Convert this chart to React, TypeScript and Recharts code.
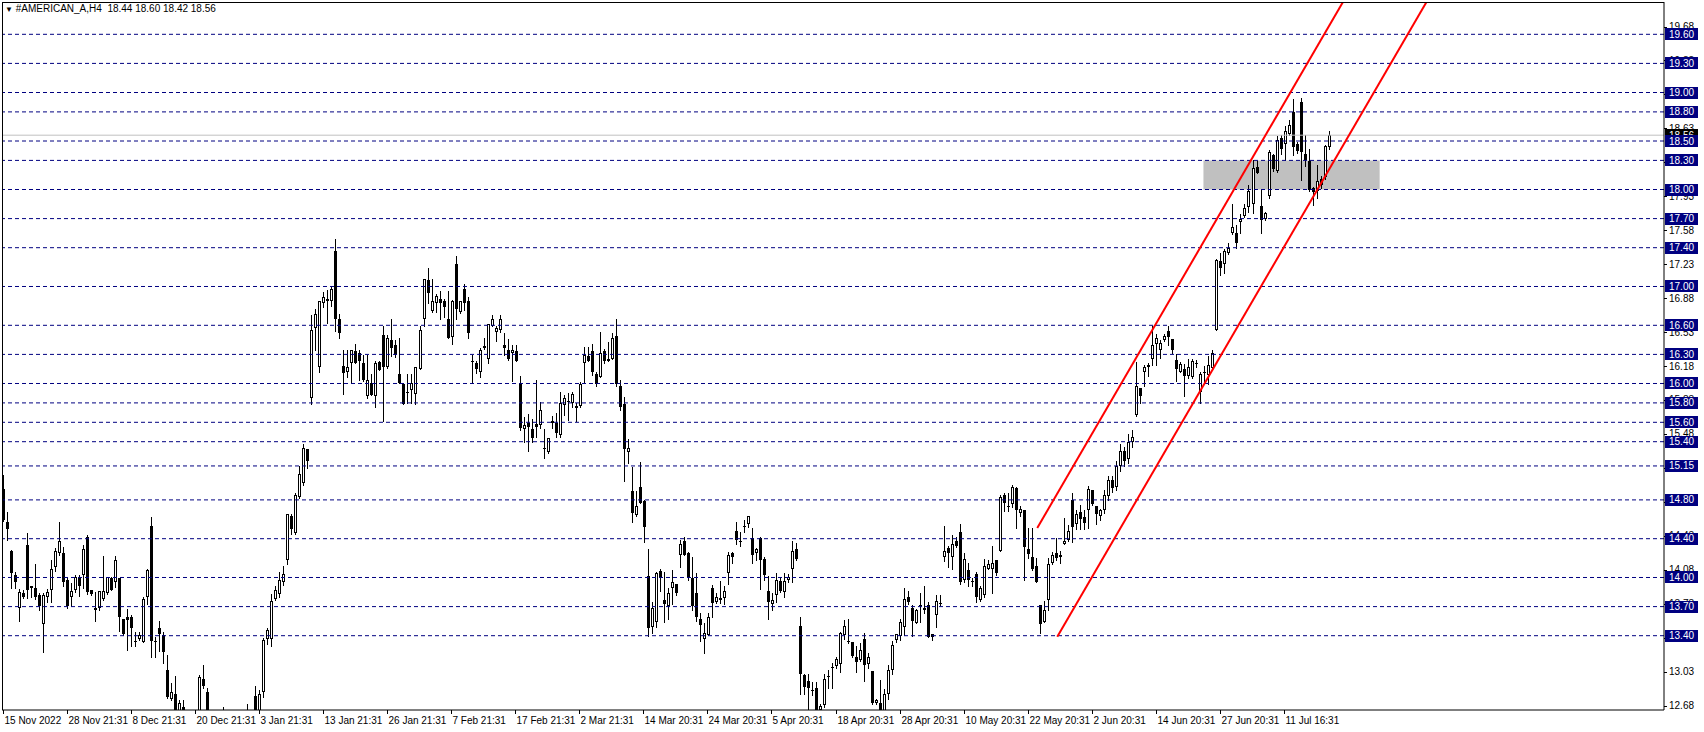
import { ComposedChart, Bar, XAxis, YAxis, ReferenceLine, ReferenceArea } from "recharts";

// H4 candles, oldest first
const OPEN = [
  14.91, 14.57, 14.27, 14.03, 13.69, 13.84, 14.33, 13.89, 13.89, 13.82, 13.52, 13.80, 13.87, 14.11, 14.25, 14.25, 13.97, 13.80, 13.87, 13.99,
  14.03, 14.42, 13.87, 13.69, 13.69, 13.78, 13.84, 13.99, 13.95, 13.99, 13.57, 13.59, 13.59, 13.35, 13.37, 13.33, 13.80, 14.53, 13.35, 13.48,
  13.41, 13.05, 12.75, 12.80, 12.62, 12.66, 12.58, 12.45, 12.50, 12.60, 12.95, 12.82, 12.55, 12.45, 12.50, 12.45, 12.55, 12.48, 12.52, 12.46,
  12.50, 12.55, 12.50, 12.78, 12.60, 12.82, 13.37, 13.37, 13.78, 13.83, 13.95, 14.18, 14.63, 14.46, 14.83, 14.97, 15.32, 15.85, 16.57, 16.17,
  16.83, 16.85, 16.85, 17.37, 16.67, 16.18, 16.12, 16.21, 16.33, 16.31, 16.21, 15.87, 16.01, 15.87, 16.22, 16.50, 16.17, 16.45, 16.40, 16.10,
  15.99, 15.91, 15.93, 15.89, 16.15, 16.67, 17.07, 16.75, 16.83, 16.87, 16.85, 16.66, 16.48, 17.23, 16.74, 16.97, 16.85, 16.23, 16.21, 16.12,
  16.37, 16.25, 16.59, 16.53, 16.55, 16.40, 16.35, 16.31, 16.33, 15.99, 15.53, 15.59, 15.53, 15.58, 15.57, 15.33, 15.29, 15.59, 15.59, 15.47,
  15.78, 15.82, 15.80, 15.77, 15.77, 16.21, 16.28, 16.34, 16.10, 16.07, 16.33, 16.25, 16.25, 16.49, 15.97, 15.79, 15.29, 14.89, 14.64, 14.93,
  14.79, 14.02, 13.49, 13.54, 14.07, 13.77, 13.71, 13.89, 13.93, 14.23, 14.38, 14.25, 13.99, 13.84, 13.57, 13.37, 13.41, 13.89, 13.75, 13.77,
  13.79, 14.05, 14.25, 14.48, 14.38, 14.52, 14.55, 14.41, 14.25, 14.41, 14.19, 13.86, 13.73, 13.82, 13.96, 13.85, 13.97, 14.09, 14.29, 13.50,
  12.99, 12.93, 12.84, 12.86, 12.63, 12.69, 12.98, 13.08, 13.09, 13.11, 13.41, 13.35, 13.33, 13.18, 13.15, 13.37, 13.11, 13.04, 12.71, 12.71,
  12.62, 12.80, 13.05, 13.36, 13.40, 13.49, 13.80, 13.69, 13.53, 13.72, 13.69, 13.72, 13.42, 13.61, 13.74, 14.21, 14.30, 14.21, 14.38, 14.47,
  13.97, 14.08, 13.96, 14.04, 13.77, 13.82, 14.09, 14.09, 14.18, 14.27, 14.85, 14.74, 14.76, 14.92, 14.67, 14.70, 14.29, 14.21, 14.12, 13.72,
  13.54, 13.77, 14.15, 14.25, 14.23, 14.35, 14.39, 14.80, 14.55, 14.68, 14.62, 14.70, 14.90, 14.74, 14.63, 14.70, 14.84, 15.00, 14.93, 15.15,
  15.30, 15.22, 15.40, 15.68, 15.95, 16.12, 16.19, 16.25, 16.41, 16.35, 16.45, 16.54, 16.46, 16.24, 16.12, 16.15, 16.08, 16.07, 16.21, 15.91,
  16.12, 16.09, 16.16, 16.55, 17.26, 17.23, 17.35, 17.55, 17.55, 17.67, 17.73, 17.82, 17.85, 18.23, 17.83, 17.70, 17.93, 18.36, 18.19, 18.53,
  18.47, 18.57, 18.80, 18.47, 18.90, 18.37, 18.29, 18.02, 17.98, 18.11, 18.13, 18.44,
];
const HIGH = [
  15.06, 14.68, 14.28, 14.06, 13.88, 13.87, 14.46, 13.91, 14.14, 13.84, 13.84, 13.88, 14.18, 14.30, 14.57, 14.31, 13.99, 13.94, 14.03, 14.03,
  14.33, 14.44, 13.87, 13.85, 13.86, 14.22, 14.01, 14.00, 14.22, 13.99, 13.57, 13.68, 13.61, 13.44, 13.44, 13.80, 14.09, 14.62, 13.39, 13.55,
  13.44, 13.20, 12.91, 12.98, 12.74, 12.74, 12.60, 12.55, 12.56, 12.99, 13.10, 12.86, 12.60, 12.58, 12.55, 12.66, 12.60, 12.62, 12.58, 12.56,
  12.60, 12.70, 12.62, 12.88, 12.84, 13.38, 13.48, 13.83, 13.91, 14.06, 14.12, 14.65, 14.65, 14.87, 15.15, 15.38, 15.32, 16.71, 16.77, 16.85,
  16.94, 16.96, 17.00, 17.49, 16.72, 16.35, 16.35, 16.35, 16.41, 16.35, 16.29, 16.29, 16.10, 16.23, 16.23, 16.59, 16.50, 16.67, 16.45, 16.47,
  16.00, 16.10, 16.10, 16.17, 16.59, 17.08, 17.19, 17.08, 16.92, 16.95, 16.87, 16.95, 16.86, 17.31, 16.85, 17.03, 16.89, 16.29, 16.23, 16.37,
  16.47, 16.61, 16.71, 16.59, 16.71, 16.52, 16.46, 16.40, 16.40, 16.08, 15.65, 15.69, 15.63, 16.04, 15.81, 15.53, 15.44, 15.66, 15.70, 15.91,
  15.88, 15.90, 15.91, 15.80, 16.02, 16.38, 16.38, 16.41, 16.12, 16.53, 16.36, 16.43, 16.52, 16.67, 16.04, 15.86, 15.43, 15.14, 14.89, 15.19,
  14.80, 14.29, 13.75, 14.06, 14.09, 14.06, 13.89, 14.08, 13.93, 14.39, 14.42, 14.26, 14.21, 14.05, 13.63, 13.53, 13.63, 13.92, 13.84, 13.96,
  13.91, 14.26, 14.26, 14.57, 14.47, 14.59, 14.63, 14.51, 14.30, 14.42, 14.21, 14.02, 13.84, 14.05, 14.01, 14.05, 14.04, 14.38, 14.36, 13.59,
  13.01, 13.01, 12.92, 12.92, 12.70, 13.01, 13.05, 13.12, 13.18, 13.44, 13.56, 13.57, 13.34, 13.29, 13.32, 13.43, 13.22, 13.04, 12.75, 12.94,
  12.85, 13.10, 13.35, 13.42, 13.57, 13.89, 13.86, 13.72, 13.68, 13.84, 13.91, 13.75, 13.42, 13.82, 13.82, 14.53, 14.32, 14.44, 14.42, 14.55,
  14.25, 14.15, 13.99, 14.06, 13.91, 14.19, 14.18, 14.32, 14.18, 14.85, 14.87, 14.87, 14.95, 14.93, 14.74, 14.70, 14.51, 14.51, 14.20, 13.72,
  13.76, 14.20, 14.26, 14.41, 14.27, 14.61, 14.54, 14.87, 14.70, 14.75, 14.70, 14.94, 14.90, 14.74, 14.71, 14.90, 15.05, 15.05, 15.20, 15.38,
  15.35, 15.48, 15.52, 16.22, 15.95, 16.19, 16.21, 16.59, 16.51, 16.45, 16.51, 16.59, 16.46, 16.30, 16.22, 16.20, 16.25, 16.25, 16.24, 16.12,
  16.18, 16.28, 16.35, 17.28, 17.35, 17.39, 17.45, 17.85, 17.63, 17.75, 17.85, 18.05, 18.30, 18.29, 18.00, 17.77, 18.41, 18.37, 18.55, 18.56,
  18.65, 18.72, 18.93, 18.49, 18.94, 18.56, 18.42, 18.03, 18.25, 18.14, 18.46, 18.60,
];
const LOW = [
  14.58, 14.39, 13.89, 13.89, 13.55, 13.79, 13.79, 13.80, 13.78, 13.67, 13.23, 13.75, 13.75, 14.07, 14.23, 13.91, 13.69, 13.71, 13.85, 13.81,
  13.89, 13.83, 13.82, 13.55, 13.67, 13.77, 13.83, 13.87, 13.90, 13.45, 13.41, 13.25, 13.29, 13.29, 13.36, 13.33, 13.73, 13.18, 13.18, 13.24,
  13.12, 12.76, 12.74, 12.52, 12.55, 12.50, 12.40, 12.40, 12.38, 12.55, 12.86, 12.50, 12.40, 12.40, 12.38, 12.42, 12.42, 12.44, 12.40, 12.42,
  12.45, 12.45, 12.46, 12.52, 12.55, 12.77, 13.31, 13.29, 13.77, 13.80, 13.92, 14.14, 14.45, 14.45, 14.82, 14.95, 15.13, 15.79, 16.35, 16.12,
  16.79, 16.62, 16.80, 16.54, 16.47, 15.89, 16.07, 16.01, 16.21, 16.04, 16.03, 15.85, 15.88, 15.76, 16.14, 15.61, 16.16, 16.28, 16.27, 16.00,
  15.79, 15.80, 15.80, 15.79, 16.15, 16.59, 16.83, 16.74, 16.74, 16.67, 16.69, 16.47, 16.41, 16.66, 16.73, 16.76, 16.47, 16.01, 16.11, 16.07,
  16.36, 16.21, 16.59, 16.44, 16.53, 16.29, 16.24, 16.03, 16.23, 15.52, 15.40, 15.30, 15.40, 15.45, 15.54, 15.23, 15.28, 15.54, 15.45, 15.45,
  15.68, 15.62, 15.76, 15.61, 15.76, 16.00, 16.23, 16.09, 15.97, 16.07, 16.21, 16.23, 16.25, 15.97, 15.73, 14.99, 15.18, 14.57, 14.63, 14.77,
  14.37, 13.40, 13.43, 13.49, 13.86, 13.54, 13.57, 13.73, 13.82, 14.11, 14.23, 13.97, 13.67, 13.55, 13.35, 13.22, 13.41, 13.59, 13.74, 13.74,
  13.73, 13.93, 14.15, 14.35, 14.32, 14.47, 14.52, 14.15, 14.18, 13.88, 13.97, 13.57, 13.67, 13.75, 13.85, 13.80, 13.95, 13.95, 14.18, 12.80,
  12.80, 12.60, 12.79, 12.55, 12.59, 12.67, 12.86, 12.86, 13.07, 13.03, 13.37, 13.32, 13.18, 13.03, 13.14, 12.93, 13.07, 12.70, 12.70, 12.58,
  12.55, 12.75, 13.00, 13.33, 13.36, 13.41, 13.73, 13.40, 13.53, 13.54, 13.63, 13.39, 13.36, 13.49, 13.72, 14.17, 14.11, 14.09, 14.31, 13.93,
  13.95, 13.91, 13.91, 13.75, 13.76, 13.80, 14.09, 13.84, 14.03, 14.27, 14.69, 14.69, 14.73, 14.51, 14.63, 13.97, 14.20, 14.08, 13.95, 13.43,
  13.54, 13.67, 14.14, 14.18, 14.15, 14.35, 14.38, 14.37, 14.50, 14.50, 14.50, 14.51, 14.75, 14.55, 14.59, 14.66, 14.80, 14.88, 14.90, 15.10,
  15.15, 15.18, 15.35, 15.67, 15.80, 15.97, 16.08, 16.19, 16.19, 16.26, 16.44, 16.40, 16.31, 16.03, 16.12, 15.87, 16.06, 16.06, 16.17, 15.80,
  16.01, 15.99, 16.16, 16.55, 17.12, 17.14, 17.34, 17.54, 17.40, 17.55, 17.72, 17.77, 17.76, 18.17, 17.55, 17.69, 17.91, 18.19, 18.18, 18.37,
  18.30, 18.56, 18.36, 18.38, 18.10, 18.24, 17.98, 17.84, 17.91, 18.02, 18.11, 18.42,
];
const CLOSE = [
  14.59, 14.50, 14.05, 13.95, 13.85, 13.80, 13.87, 13.91, 13.80, 13.71, 13.82, 13.85, 14.09, 14.27, 14.38, 13.95, 13.71, 13.86, 14.01, 13.91,
  14.29, 13.85, 13.83, 13.67, 13.86, 13.86, 14.00, 13.87, 14.18, 13.59, 13.42, 13.56, 13.48, 13.35, 13.41, 13.78, 14.08, 13.35, 13.34, 13.42,
  13.23, 12.77, 12.82, 12.58, 12.71, 12.56, 12.45, 12.50, 12.42, 12.97, 12.88, 12.58, 12.45, 12.50, 12.44, 12.55, 12.48, 12.52, 12.46, 12.50,
  12.55, 12.50, 12.58, 12.58, 12.80, 13.36, 13.46, 13.76, 13.87, 13.97, 14.04, 14.65, 14.50, 14.85, 15.07, 15.33, 15.20, 16.55, 16.72, 16.85,
  16.89, 16.87, 16.97, 16.66, 16.52, 16.11, 16.17, 16.35, 16.21, 16.23, 16.04, 16.04, 15.88, 16.21, 16.14, 16.17, 16.47, 16.37, 16.29, 16.01,
  15.79, 15.91, 16.01, 16.17, 16.55, 17.08, 16.93, 16.85, 16.90, 16.83, 16.79, 16.47, 16.85, 16.77, 16.85, 16.83, 16.52, 16.22, 16.15, 16.35,
  16.39, 16.61, 16.66, 16.57, 16.67, 16.37, 16.25, 16.35, 16.23, 15.54, 15.57, 15.55, 15.44, 15.55, 15.73, 15.32, 15.44, 15.61, 15.49, 15.80,
  15.85, 15.82, 15.89, 15.75, 15.99, 16.29, 16.23, 16.12, 15.99, 16.31, 16.23, 16.23, 16.47, 15.99, 15.76, 15.32, 15.33, 14.67, 14.74, 14.77,
  14.52, 13.48, 13.69, 14.05, 13.99, 13.73, 13.84, 13.95, 13.84, 14.35, 14.23, 14.01, 13.71, 13.59, 13.51, 13.43, 13.59, 13.74, 13.80, 13.79,
  13.86, 14.23, 14.21, 14.39, 14.38, 14.53, 14.63, 14.23, 14.29, 14.18, 14.03, 13.75, 13.77, 13.97, 13.86, 13.96, 14.01, 14.27, 14.19, 13.01,
  12.87, 12.86, 12.84, 12.60, 12.68, 12.95, 12.98, 13.08, 13.16, 13.43, 13.50, 13.33, 13.19, 13.13, 13.25, 13.10, 13.18, 12.71, 12.74, 12.62,
  12.80, 13.05, 13.30, 13.42, 13.54, 13.78, 13.75, 13.55, 13.67, 13.72, 13.66, 13.39, 13.39, 13.76, 13.74, 14.27, 14.25, 14.35, 14.32, 13.95,
  14.19, 13.97, 13.96, 13.80, 13.89, 14.12, 14.14, 14.15, 14.05, 14.83, 14.77, 14.74, 14.93, 14.70, 14.71, 14.31, 14.24, 14.09, 13.95, 13.52,
  13.67, 14.14, 14.23, 14.20, 14.21, 14.38, 14.48, 14.52, 14.65, 14.60, 14.56, 14.91, 14.76, 14.65, 14.70, 14.85, 15.00, 14.92, 15.15, 15.30,
  15.20, 15.40, 15.45, 15.97, 15.87, 16.17, 16.17, 16.40, 16.47, 16.42, 16.49, 16.48, 16.35, 16.15, 16.20, 16.08, 16.17, 16.23, 16.21, 16.10,
  16.12, 16.19, 16.31, 17.27, 17.19, 17.37, 17.40, 17.61, 17.45, 17.70, 17.81, 17.98, 18.22, 18.17, 17.69, 17.76, 18.39, 18.21, 18.51, 18.42,
  18.60, 18.67, 18.44, 18.40, 18.39, 18.30, 18.00, 17.97, 18.09, 18.05, 18.45, 18.56,
];

const SYMBOL = "#AMERICAN_A,H4";
// one label every 16 bars
const DATE_LABELS = [
  "15 Nov 2022", "28 Nov 21:31", "8 Dec 21:31", "20 Dec 21:31", "3 Jan 21:31", "13 Jan 21:31", "26 Jan 21:31",
  "7 Feb 21:31", "17 Feb 21:31", "2 Mar 21:31", "14 Mar 20:31", "24 Mar 20:31", "5 Apr 20:31", "18 Apr 20:31",
  "28 Apr 20:31", "10 May 20:31", "22 May 20:31", "2 Jun 20:31", "14 Jun 20:31", "27 Jun 20:31", "11 Jul 16:31",
];
const LABEL_EVERY = 16;
const SLOTS = 415; // bars + empty shift on the right

const PRICE_TICKS = [
  12.68, 13.03, 13.38, 13.73, 14.08, 14.43, 14.78, 15.13, 15.48, 15.83, 16.18,
  16.53, 16.88, 17.23, 17.58, 17.93, 18.28, 18.63, 18.98, 19.33, 19.68,
];
const LEVELS = [
  19.6, 19.3, 19.0, 18.8, 18.5, 18.3, 18.0, 17.7, 17.4, 17.0, 16.6,
  16.3, 16.0, 15.8, 15.6, 15.4, 15.15, 14.8, 14.4, 14.0, 13.7, 13.4,
];
const BID = 18.56;
const ZONE_BARS = [300, 343];
const ZONE_PRICES = [18.0, 18.3];
const CHANNEL_UPPER = [{ x: 258, y: 14.51 }, { x: 335, y: 19.98 }];
const CHANNEL_LOWER = [{ x: 263, y: 13.39 }, { x: 356, y: 19.99 }];
const Y_DOMAIN: [number, number] = [12.634, 19.933];

const W = 1704;
const H = 732;
const PLOT_LEFT = 2;
const PLOT_TOP = 2;
const PLOT_RIGHT = 1664;
const PLOT_BOTTOM = 710;
const FONT = '"Liberation Sans", Arial, sans-serif';
const NAVY = "#000080";

// plain scale labels first, then the price tags drawn over them
const AXIS_TICKS = [...PRICE_TICKS, BID, ...LEVELS];

const rows = Array.from({ length: SLOTS }, (_, i) => ({
  i,
  open: OPEN[i] ?? null,
  high: HIGH[i] ?? null,
  low: LOW[i] ?? null,
  close: CLOSE[i] ?? null,
}));

function Candle(props: any) {
  const { x, y, height, payload } = props;
  if (!payload || payload.open == null) return null;
  const { open, close, high, low } = payload;
  const k = high > low ? height / (high - low) : 0;
  const py = (v: number) => y + (high - v) * k;
  const left = Math.round(x);
  const cx = left + 1.5;
  const top = Math.round(py(Math.max(open, close)));
  const bot = Math.round(py(Math.min(open, close)));
  const wick = <line x1={cx} x2={cx} y1={Math.round(py(high))} y2={Math.round(py(low)) + 1} stroke="#000" strokeWidth={1} />;
  if (bot - top <= 1) {
    return (
      <g>
        {wick}
        <line x1={left} x2={left + 3} y1={top + 0.5} y2={top + 0.5} stroke="#000" strokeWidth={1} />
      </g>
    );
  }
  if (close >= open) {
    return (
      <g>
        {wick}
        <rect x={left + 0.5} y={top + 0.5} width={2} height={bot - top - 1} fill="#fff" stroke="#000" strokeWidth={1} />
      </g>
    );
  }
  return (
    <g>
      {wick}
      <rect x={left} y={top} width={3} height={bot - top} fill="#000" />
    </g>
  );
}

function DateTick(props: any) {
  const { x, payload } = props;
  const i = payload.value;
  if (i % LABEL_EVERY !== 0) return null;
  const label = DATE_LABELS[i / LABEL_EVERY];
  if (!label) return null;
  const tx = Math.round(x - 1.5) + 0.5;
  return (
    <g>
      <line x1={tx} x2={tx} y1={PLOT_BOTTOM} y2={PLOT_BOTTOM + 4} stroke="#000" />
      <text x={tx + 1} y={PLOT_BOTTOM + 14} fontSize={10} fontFamily={FONT} fill="#000">{label}</text>
    </g>
  );
}

function PriceTick(props: any) {
  const { y, payload } = props;
  const v: number = payload.value;
  const ty = Math.round(y) + 0.5;
  const tagFill = v === BID ? "#000" : LEVELS.includes(v) ? NAVY : null;
  if (tagFill) {
    return (
      <g>
        <rect x={PLOT_RIGHT + 1} y={Math.round(y) - 6} width={33} height={12} fill={tagFill} />
        <text x={PLOT_RIGHT + 5} y={y + 3.5} fontSize={10} fontFamily={FONT} fill="#fff">{v.toFixed(2)}</text>
      </g>
    );
  }
  return (
    <g>
      <line x1={PLOT_RIGHT} x2={PLOT_RIGHT + 3} y1={ty} y2={ty} stroke="#000" />
      <text x={PLOT_RIGHT + 5} y={y + 3.5} fontSize={10} fontFamily={FONT} fill="#000">{v.toFixed(2)}</text>
    </g>
  );
}

export default function App() {
  const last = rows[OPEN.length - 1];
  const title = `${SYMBOL}  ${[last.open, last.high, last.low, last.close].map((v) => (v as number).toFixed(2)).join(" ")}`;

  return (
    <div style={{ position: "absolute", left: 0, top: 0, width: W, height: H, background: "#fff", overflow: "hidden" }}>
      <ComposedChart
        width={W}
        height={H}
        data={rows}
        margin={{ top: PLOT_TOP, right: 0, bottom: 0, left: PLOT_LEFT }}
        barCategoryGap={0}
        barGap={0}
      >
        <XAxis
          dataKey="i"
          height={H - PLOT_BOTTOM}
          interval={0}
          tick={<DateTick />}
          tickLine={false}
          axisLine={{ stroke: "#000" }}
        />
        <YAxis
          orientation="right"
          width={W - PLOT_RIGHT}
          type="number"
          domain={Y_DOMAIN}
          allowDataOverflow
          ticks={AXIS_TICKS}
          interval={0}
          tick={<PriceTick />}
          tickLine={false}
          axisLine={{ stroke: "#000" }}
        />
        <ReferenceArea
          x1={ZONE_BARS[0]}
          x2={ZONE_BARS[1]}
          y1={ZONE_PRICES[0]}
          y2={ZONE_PRICES[1]}
          fill="#c0c0c0"
          fillOpacity={1}
          stroke="none"
        />
        <ReferenceLine y={BID} stroke="#c0c0c0" strokeWidth={1} />
        {LEVELS.map((v) => (
          <ReferenceLine key={v} y={v} stroke={NAVY} strokeWidth={1} strokeDasharray="4 3" />
        ))}
        <Bar
          dataKey={(d: any) => (d.open == null ? null : [d.low, d.high])}
          shape={<Candle />}
          isAnimationActive={false}
        />
        <ReferenceLine segment={CHANNEL_UPPER} stroke="#ff0000" strokeWidth={2} ifOverflow="hidden" />
        <ReferenceLine segment={CHANNEL_LOWER} stroke="#ff0000" strokeWidth={2} ifOverflow="hidden" />
      </ComposedChart>
      <div
        style={{
          position: "absolute",
          left: PLOT_LEFT,
          top: PLOT_TOP,
          width: PLOT_RIGHT - PLOT_LEFT,
          height: PLOT_BOTTOM - PLOT_TOP,
          borderTop: "1px solid #000",
          borderLeft: "1px solid #000",
          boxSizing: "border-box",
          pointerEvents: "none",
        }}
      />
      <div
        style={{
          position: "absolute",
          left: 5,
          top: 3,
          fontFamily: FONT,
          fontSize: 10,
          color: "#000",
          whiteSpace: "pre",
          lineHeight: "12px",
        }}
      >
        <span style={{ fontSize: 8 }}>▼</span> {title}
      </div>
    </div>
  );
}
